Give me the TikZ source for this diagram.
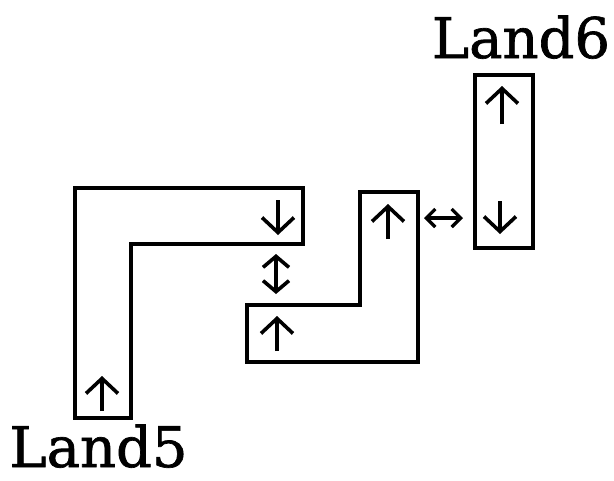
\documentclass[tikz,border=0pt]{standalone}
\usepackage{fontspec}
\setmainfont{DejaVu Serif}[FakeBold=1.2]
\usetikzlibrary{arrows.meta}
\tikzset{
  land/.style={draw=black, line width=4pt, line join=miter},
  uparrow/.style={draw=black, line width=3.6pt, -{Straight Barb[length=15pt,width=32pt,line width=3.6pt]}},
  dblv/.style={draw=black, line width=3.6pt, {Straight Barb[length=11pt,width=26pt,line width=3.6pt]}-{Straight Barb[length=11pt,width=26pt,line width=3.6pt]}},
  dblh/.style={draw=black, line width=3.2pt, {Straight Barb[length=9pt,width=18pt,line width=3.2pt]}-{Straight Barb[length=9pt,width=18pt,line width=3.2pt]}},
  lbl/.style={font=\fontsize{56}{62}\selectfont, inner sep=0pt, anchor=base}
}
\begin{document}
\begin{tikzpicture}[x=1pt,y=-1pt]
\useasboundingbox (0,0) rectangle (614,480);
% shapes
\draw[land] (75,188) -- (303,188) -- (303,244) -- (131,244) -- (131,418) -- (75,418) -- cycle;
\draw[land] (247,305) -- (360,305) -- (360,192) -- (418,192) -- (418,362) -- (247,362) -- cycle;
\draw[land] (475,75) rectangle (533,248);
% coordinates
\coordinate (a1s) at (278,200); \coordinate (a1e) at (278,235);
\coordinate (a2s) at (102,411); \coordinate (a2e) at (102,376);
\coordinate (v1) at (276,254); \coordinate (v2) at (276,294);
\coordinate (b1s) at (277,351); \coordinate (b1e) at (277,316);
\coordinate (b2s) at (388,239); \coordinate (b2e) at (388,204);
\coordinate (h1) at (424,218); \coordinate (h2) at (463,218);
\coordinate (c1s) at (502,124); \coordinate (c1e) at (502,86);
\coordinate (c2s) at (500,201); \coordinate (c2e) at (500,234);
% arrows
\draw[uparrow] (a1s) -- (a1e);
\draw[uparrow] (a2s) -- (a2e);
\draw[dblv] (v1) -- (v2);
\draw[uparrow] (b1s) -- (b1e);
\draw[uparrow] (b2s) -- (b2e);
\draw[dblh] (h1) -- (h2);
\draw[uparrow] (c1s) -- (c1e);
\draw[uparrow] (c2s) -- (c2e);
% labels
\node[lbl] (land6) at (521,58) {Land6};
\node[lbl] (land5) at (98.5,467) {Land5};
\end{tikzpicture}
\end{document}
